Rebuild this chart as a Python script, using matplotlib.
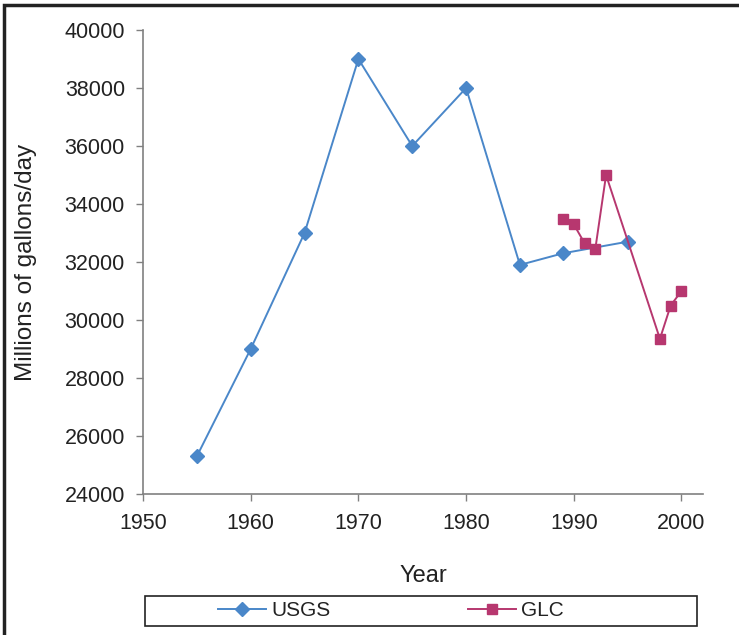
import matplotlib
matplotlib.use("Agg")
import matplotlib.pyplot as plt
from matplotlib.patches import Rectangle
from matplotlib.lines import Line2D

plt.rcParams["font.family"] = ["Liberation Sans", "DejaVu Sans"]

# data
usgs_years = [1955, 1960, 1965, 1970, 1975, 1980, 1985, 1989, 1995]
usgs_vals = [25300, 29000, 33000, 39000, 36000, 38000, 31900, 32300, 32700]
glc_years = [1989, 1990, 1991, 1992, 1993, 1998, 1999, 2000]
glc_vals = [33500, 33300, 32650, 32450, 35000, 29350, 30500, 31000]

x_ticks = [1950, 1960, 1970, 1980, 1990, 2000]
y_ticks = list(range(24000, 40001, 2000))

BLUE = "#4a87c9"
PINK = "#b7376f"
GREY = "#808080"
TXT = "#222222"

fig = plt.figure(figsize=(7.39, 6.35), dpi=100)
ax = fig.add_axes([143 / 739, 1 - 494 / 635, (703 - 143) / 739, (494 - 30) / 635])

ax.plot(usgs_years, usgs_vals, color=BLUE, lw=1.4, marker="D", ms=7,
        mec=BLUE, mfc=BLUE, label="USGS", clip_on=False)
ax.plot(glc_years, glc_vals, color=PINK, lw=1.4, marker="s", ms=7.5,
        mec=PINK, mfc=PINK, label="GLC", clip_on=False)

ax.set_xlim(1950, 2002)
ax.set_ylim(24000, 40000)
ax.set_xticks(x_ticks)
ax.set_yticks(y_ticks)
ax.tick_params(direction="out", length=5, width=1, color=GREY,
               labelsize=15.5, labelcolor=TXT)
ax.tick_params(axis="x", pad=9)
ax.tick_params(axis="y", pad=8)
for side in ("top", "right"):
    ax.spines[side].set_visible(False)
for side in ("left", "bottom"):
    ax.spines[side].set_color(GREY)
    ax.spines[side].set_linewidth(1.2)

ax.set_xlabel("Year", fontsize=17, color=TXT, labelpad=22)
ax.set_ylabel("Millions of gallons/day", fontsize=17.5, color=TXT, labelpad=20)

# legend box across the bottom
fig.patches.append(Rectangle((145 / 739, 1 - 626 / 635), 552 / 739, 30 / 635,
                             transform=fig.transFigure, fill=False,
                             ec=TXT, lw=1.2))
handles = [
    Line2D([], [], color=BLUE, lw=1.4, marker="D", ms=7, mfc=BLUE, mec=BLUE),
    Line2D([], [], color=PINK, lw=1.4, marker="s", ms=7.5, mfc=PINK, mec=PINK),
]
leg = fig.legend(handles, ["USGS", "GLC"], loc="center left",
                 bbox_to_anchor=(218 / 739, 1 - 611 / 635), ncol=2, frameon=False,
                 fontsize=15, handlelength=2.3, handletextpad=0.24,
                 columnspacing=6.6, borderpad=0, borderaxespad=0)
for t in leg.get_texts():
    t.set_color(TXT)

# outer frame (left and top edges visible)
fig.patches.append(Rectangle((3.5 / 739, -0.05), 2, 1.05 - 4.5 / 635,
                             transform=fig.transFigure, fill=False,
                             ec=TXT, lw=2.5))

fig.savefig("out.png", dpi=100)
